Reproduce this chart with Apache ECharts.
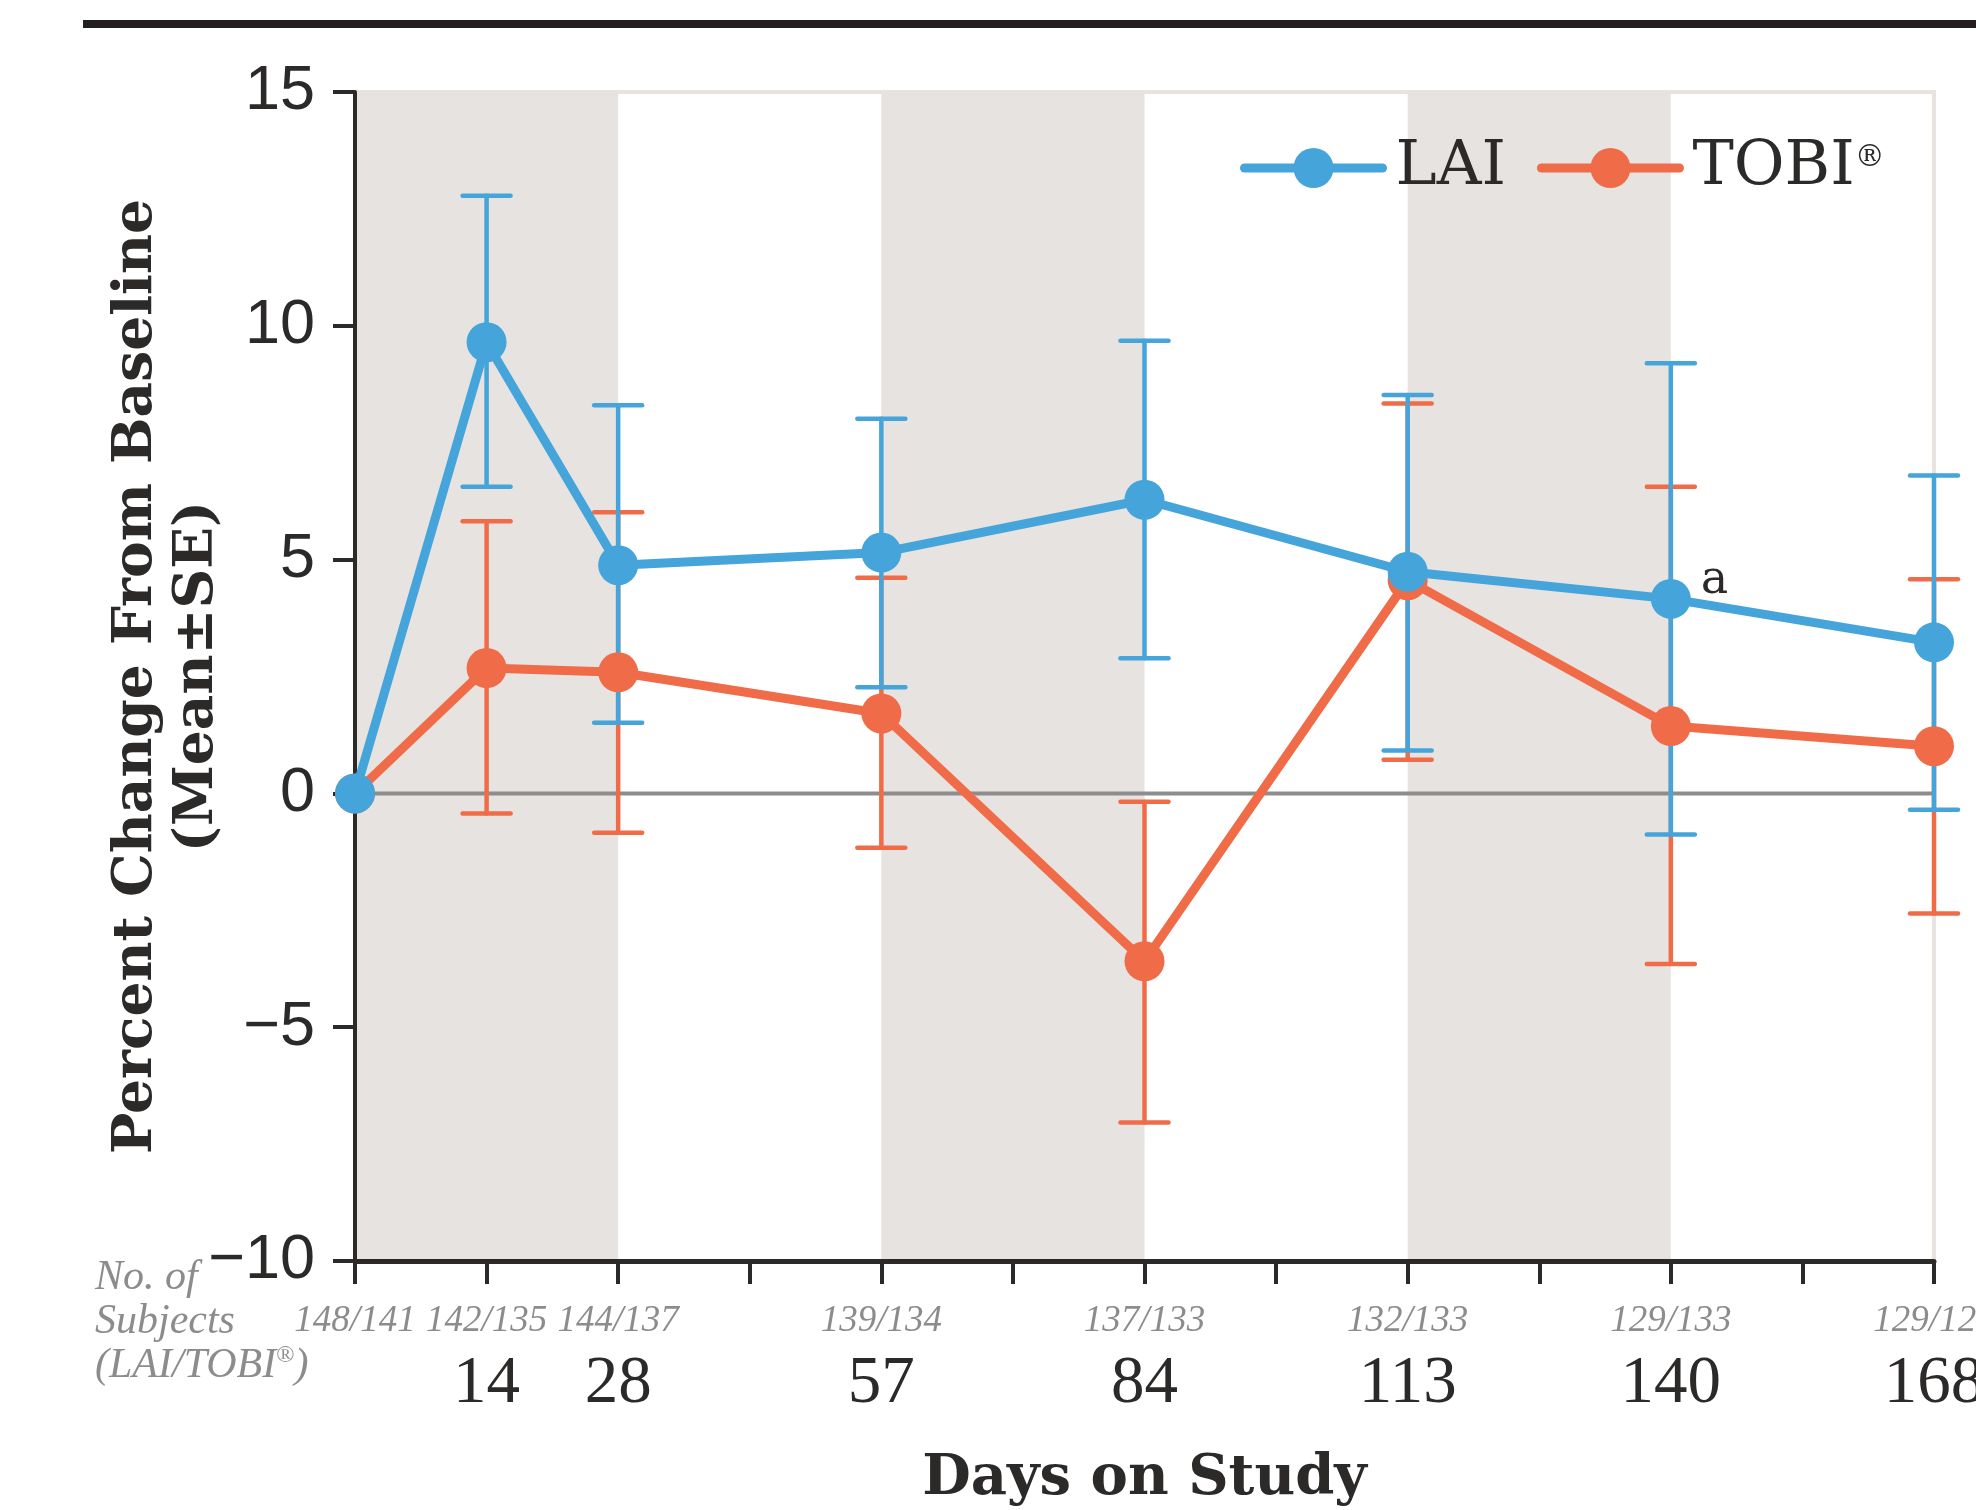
<!DOCTYPE html>
<html>
<head>
<meta charset="utf-8">
<script src="https://cdn.jsdelivr.net/npm/echarts@6/dist/echarts.min.js"></script>
<style>
  html, body { margin: 0; padding: 0; background: #ffffff; }
  #chart { width: 1976px; height: 1510px; }
</style>
</head>
<body>
<div id="chart"></div>
<script>
// ---- Data ----
const days = [0, 14, 28, 56, 84, 112, 140, 168];          // nominal visit positions
const dayLabels = ['', '14', '28', '57', '84', '113', '140', '168'];
const subjects = ['148/141', '142/135', '144/137', '139/134', '137/133', '132/133', '129/133', '129/128'];

const laiMean  = [0, 9.65, 4.88, 5.15, 6.28, 4.74, 4.16, 3.23];
const laiUpper = [null, 12.78, 8.30, 8.01, 9.68, 8.52, 9.20, 6.80];
const laiLower = [null, 6.56, 1.51, 2.27, 2.89, 0.92, -0.88, -0.35];
const laiNotes = ['', '', '', '', '', '', 'a', ''];

const tobiMean  = [0, 2.68, 2.59, 1.71, -3.59, 4.56, 1.44, 1.01];
const tobiUpper = [null, 5.82, 6.01, 4.61, -0.18, 8.34, 6.56, 4.58];
const tobiLower = [null, -0.43, -0.84, -1.16, -7.04, 0.72, -3.65, -2.57];

const shadedBands = [[0, 28], [56, 84], [112, 140]];
const yTicks = { min: -10, max: 15, interval: 5 };
const xTicks = { min: 0, max: 168, interval: 14 };

// ---- Styles ----
const BLUE = '#45a4d9';
const ORANGE = '#f06c48';
const BAND = '#e6e3e0';
const DARK = '#2c2a29';
const GRAYTXT = '#8c8c8c';

function errData(lower, upper) {
  const out = [];
  days.forEach((d, i) => {
    if (lower[i] != null && upper[i] != null) out.push([d, lower[i], upper[i]]);
  });
  return out;
}

function errRender(color) {
  return function (params, api) {
    const x = api.value(0);
    const pLo = api.coord([x, api.value(1)]);
    const pHi = api.coord([x, api.value(2)]);
    const hw = 24;
    const style = { stroke: color, lineWidth: 4.5, lineCap: 'round', fill: null };
    return {
      type: 'group',
      children: [
        { type: 'line', shape: { x1: pLo[0], y1: pLo[1], x2: pHi[0], y2: pHi[1] }, style: style },
        { type: 'line', shape: { x1: pHi[0] - hw, y1: pHi[1], x2: pHi[0] + hw, y2: pHi[1] }, style: style },
        { type: 'line', shape: { x1: pLo[0] - hw, y1: pLo[1], x2: pLo[0] + hw, y2: pLo[1] }, style: style }
      ]
    };
  };
}

const laiData = days.map((d, i) => {
  const item = { value: [d, laiMean[i]] };
  if (laiNotes[i]) {
    item.label = {
      show: true, formatter: laiNotes[i], position: 'right', distance: 10, offset: [0, -18],
      fontFamily: 'DejaVu Serif', fontSize: 46, color: DARK
    };
  }
  return item;
});
const tobiData = days.map((d, i) => [d, tobiMean[i]]);

const chart = echarts.init(document.getElementById('chart'), null, { renderer: 'canvas' });

const option = {
  animation: false,
  backgroundColor: '#ffffff',
  grid: {
    left: 355, right: 42, top: 92, bottom: 249,
    containLabel: false,
    outerBoundsMode: 'none',
    show: true, borderColor: BAND, borderWidth: 4, backgroundColor: 'transparent'
  },
  graphic: [
    { type: 'rect', shape: { x: 83, y: 20, width: 1893, height: 8 }, style: { fill: '#231f20' } },
    {
      type: 'text', left: 95, top: 1256,
      style: {
        text: 'No. of\nSubjects\n(LAI/TOBI{r|®})',
        fontFamily: 'Liberation Serif', fontStyle: 'italic', fontSize: 42, lineHeight: 44,
        fill: GRAYTXT,
        rich: { r: { fontSize: 24, lineHeight: 24, verticalAlign: 'top', fontFamily: 'Liberation Serif', fill: GRAYTXT } }
      }
    }
  ],
  legend: {
    data: ['LAI', 'TOBI®'],
    left: 1240, top: 137,
    itemWidth: 138, itemHeight: 50, itemGap: 31,
    padding: 0,
    lineStyle: { width: 9, cap: 'round' },
    formatter: function (name) { return name === 'TOBI®' ? 'TOBI{r|®}' : name; },
    textStyle: {
      fontFamily: 'DejaVu Serif', fontSize: 62, color: DARK, lineHeight: 50, padding: [0, 0, 0, 8],
      rich: { r: { fontFamily: 'DejaVu Serif', fontSize: 30, lineHeight: 26, verticalAlign: 'top', color: DARK } }
    }
  },
  xAxis: {
    type: 'value', min: xTicks.min, max: xTicks.max, interval: xTicks.interval,
    z: 1.5,
    name: 'Days on Study', nameLocation: 'middle', nameGap: 190, nameMoveOverlap: false,
    nameTextStyle: { fontFamily: 'DejaVu Serif', fontWeight: 'bold', fontSize: 56, lineHeight: 56, color: DARK },
    axisLine: { show: true, onZero: false, lineStyle: { color: DARK, width: 5 } },
    axisTick: { show: true, length: 23, lineStyle: { color: DARK, width: 4 } },
    splitLine: { show: false },
    axisLabel: {
      margin: 38,
      showMinLabel: true, showMaxLabel: true,
      formatter: function (v) {
        const i = days.indexOf(v);
        if (i < 0) return '';
        return '{n|' + subjects[i] + '}\n{d|' + (dayLabels[i] || ' ') + '}';
      },
      rich: {
        n: { fontFamily: 'Liberation Serif', fontStyle: 'italic', fontSize: 37, lineHeight: 44, color: GRAYTXT },
        d: { fontFamily: 'Liberation Serif', fontSize: 67, lineHeight: 82, color: DARK }
      }
    }
  },
  yAxis: {
    type: 'value', min: yTicks.min, max: yTicks.max, interval: yTicks.interval,
    z: 1.5,
    name: 'Percent Change From Baseline\n(Mean\u00b1SE)',
    nameLocation: 'middle', nameRotate: 90, nameGap: 127, nameMoveOverlap: false,
    nameTextStyle: { fontFamily: 'DejaVu Serif', fontWeight: 'bold', fontSize: 55, lineHeight: 61, color: DARK },
    axisLine: { show: true, lineStyle: { color: DARK, width: 4 } },
    axisTick: { show: true, length: 22, lineStyle: { color: DARK, width: 4 } },
    splitLine: { show: false },
    axisLabel: {
      margin: 40, fontFamily: 'Liberation Sans', fontSize: 63, color: DARK,
      formatter: function (v) { return v < 0 ? '\u2212' + Math.abs(v) : String(v); }
    }
  },
  series: [
    {
      name: 'bands', type: 'custom', z: 0, silent: true,
      data: shadedBands,
      renderItem: function (params, api) {
        const cs = params.coordSys;
        const x0 = api.coord([api.value(0), 0])[0];
        const x1 = api.coord([api.value(1), 0])[0];
        return { type: 'rect', shape: { x: x0, y: cs.y, width: x1 - x0, height: cs.height }, style: { fill: BAND } };
      }
    },
    {
      name: 'zero', type: 'custom', z: 1, silent: true,
      data: [[0]],
      renderItem: function (params, api) {
        const cs = params.coordSys;
        const y = api.coord([0, api.value(0)])[1];
        return { type: 'line', shape: { x1: cs.x, y1: y, x2: cs.x + cs.width, y2: y }, style: { stroke: '#8d8d8d', lineWidth: 4 } };
      }
    },
    {
      name: 'TOBI SE', type: 'custom', z: 2, silent: true,
      data: errData(tobiLower, tobiUpper),
      renderItem: errRender(ORANGE)
    },
    {
      name: 'LAI SE', type: 'custom', z: 3, silent: true,
      data: errData(laiLower, laiUpper),
      renderItem: errRender(BLUE)
    },
    {
      name: 'TOBI®', type: 'line', z: 4, clip: false,
      data: tobiData,
      symbol: 'circle', symbolSize: 40, showAllSymbol: true,
      lineStyle: { color: ORANGE, width: 9, join: 'round' },
      itemStyle: { color: ORANGE }
    },
    {
      name: 'LAI', type: 'line', z: 5, clip: false,
      data: laiData,
      symbol: 'circle', symbolSize: 40, showAllSymbol: true,
      lineStyle: { color: BLUE, width: 9, join: 'round' },
      itemStyle: { color: BLUE }
    }
  ]
};

chart.setOption(option);
</script>
</body>
</html>
